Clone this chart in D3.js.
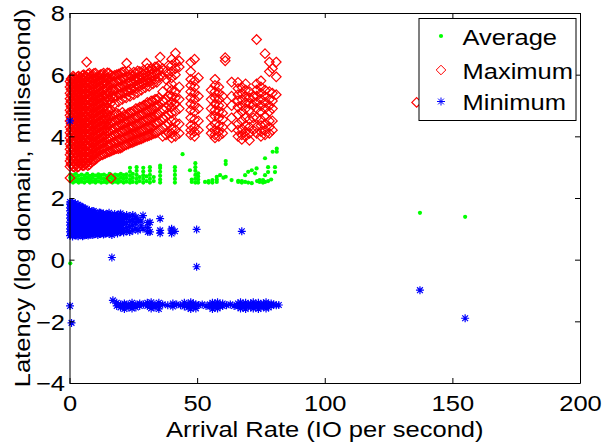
<!DOCTYPE html>
<html>
<head>
<meta charset="utf-8">
<script src="https://cdn.jsdelivr.net/npm/d3@7"></script>
<style>
  body { margin: 0; background: #fff; }
  text { font-family: "Liberation Sans", Arial, sans-serif; }
</style>
</head>
<body>
<div id="chart"></div>
<script>
// latency vs arrival rate scatter (avg / max / min)

const xTicks = [0, 50, 100, 150, 200];
const yTicks = [-4, -2, 0, 2, 4, 6, 8];
const seriesNames = ["Average", "Maximum", "Minimum"];

// each entry: [arrival rate, [latency values at that rate]]
const avgCols = [
  [0.3, [2.55, 2.66, 2.77, 3.82, 1.12, -0.12]],
  [1.4, [2.5, 2.62, 2.74]], [2.5, [2.54, 2.65, 2.78]], [3.6, [2.5, 2.6, 2.72]],
  [4.7, [2.53, 2.64, 2.76]], [5.8, [2.5, 2.62, 2.73]], [6.9, [2.55, 2.66, 2.78]],
  [8.0, [2.5, 2.61, 2.72]], [9.1, [2.53, 2.65, 2.76]], [10.2, [2.5, 2.6, 2.73]],
  [11.3, [2.54, 2.66, 2.77]], [12.4, [2.5, 2.62, 2.74]], [13.5, [2.52, 2.64, 2.76]],
  [14.6, [2.5, 2.6, 2.72]], [15.7, [2.54, 2.66, 2.78]], [16.8, [2.5, 2.62, 2.73]],
  [17.9, [2.53, 2.65, 2.76]], [19.0, [2.5, 2.61, 2.74]], [20.1, [2.54, 2.66, 2.78]],
  [21.2, [2.5, 2.62, 2.74]], [22.3, [2.53, 2.65, 2.77]],
  [23.7, [2.5, 2.6, 2.72, 2.85, 2.98]], [24.8, [2.52, 2.65, 2.78]],
  [26.3, [2.5, 2.62, 2.75, 2.88, 3.0]], [27.5, [2.55, 2.68]],
  [28.9, [2.5, 2.62, 2.74, 2.86, 2.98]], [30.2, [2.55, 2.7]],
  [31.5, [2.5, 2.62, 2.75, 2.88, 3.0]], [33.0, [2.55, 2.68]],
  [35.5, [2.5, 2.6, 2.72, 2.85, 2.97, 3.05]],
  [41.3, [2.5, 2.62, 2.75, 2.88, 3.0]], [44.3, [3.42]], [47.2, [2.9]], [47.9, [2.52, 2.6]],
  [49.3, [2.5, 2.62, 2.75, 2.88, 3.0, 3.13]], [50.4, [2.5, 2.6, 2.7, 2.8]],
  [53.1, [2.52]], [54.5, [2.5, 2.55]], [56.0, [2.5, 2.58]], [57.7, [2.52, 2.6, 2.69]],
  [59.0, [2.74]], [60.3, [2.66]], [61.2, [3.1, 3.2, 2.69]], [63.5, [2.58]],
  [66.1, [2.52, 2.56]], [67.5, [2.5, 2.55]], [68.8, [2.52, 2.74]], [70.0, [2.5, 2.85]],
  [71.4, [2.48, 2.9]], [72.7, [2.8]], [73.3, [2.96]], [73.5, [2.55]], [74.5, [2.52, 2.58]],
  [75.8, [2.5, 2.58]], [76.6, [3.29, 2.52, 2.74]], [77.8, [2.55, 2.84, 3.0]], [79.0, [2.6]],
  [79.6, [3.5]], [80.5, [2.84, 3.0]], [81.2, [3.5, 3.6]],
  [137.3, [1.52]], [155.0, [1.39]]
];

const maxCols = [
  [0.2, [3.02, 3.2, 3.4, 3.58, 3.75, 3.95, 4.12, 4.3, 4.5, 4.68, 4.85, 5.05, 5.22, 5.4, 5.6, 5.78, 2.65]],
  [0.6, [3.1, 3.29, 3.48, 3.67, 3.86, 4.04, 4.22, 4.41, 4.6, 4.78, 4.96, 5.14, 5.33, 5.52, 5.7, 5.86]],
  [1.0, [3.1, 3.28, 3.47, 3.66, 3.84, 4.03, 4.2, 4.4, 4.58, 4.77, 4.95, 5.13, 5.32, 5.5, 5.7, 5.88]],
  [1.4, [3.02, 3.2, 3.38, 3.56, 3.75, 3.93, 4.12, 4.31, 4.5, 4.69, 4.87, 5.06, 5.24, 5.43, 5.62, 5.8, 5.95]],
  [1.8, [3.0, 3.18, 3.37, 3.55, 3.73, 3.92, 4.1, 4.28, 4.47, 4.66, 4.85, 5.03, 5.2, 5.4, 5.58, 5.76, 5.92]],
  [2.2, [3.12, 3.3, 3.49, 3.68, 3.87, 4.06, 4.24, 4.43, 4.62, 4.81, 5.0, 5.18, 5.37, 5.56, 5.74, 5.88]],
  [2.7, [3.08, 3.27, 3.45, 3.64, 3.82, 4.0, 4.18, 4.37, 4.55, 4.74, 4.93, 5.1, 5.3, 5.48, 5.66, 5.85]],
  [3.1, [3.0, 3.18, 3.36, 3.55, 3.74, 3.92, 4.1, 4.29, 4.48, 4.66, 4.84, 5.03, 5.22, 5.4, 5.58, 5.77, 5.93]],
  [3.6, [3.02, 3.2, 3.38, 3.57, 3.76, 3.95, 4.14, 4.32, 4.5, 4.7, 4.88, 5.06, 5.25, 5.44, 5.62, 5.8, 5.95]],
  [4.1, [3.12, 3.3, 3.5, 3.68, 3.87, 4.06, 4.25, 4.44, 4.62, 4.8, 4.99, 5.18, 5.36, 5.55, 5.74, 5.9]],
  [4.6, [3.1, 3.3, 3.48, 3.67, 3.86, 4.05, 4.23, 4.42, 4.6, 4.79, 4.98, 5.16, 5.35, 5.54, 5.72, 5.9]],
  [5.1, [3.05, 3.22, 3.4, 3.58, 3.77, 3.96, 4.14, 4.33, 4.52, 4.7, 4.89, 5.08, 5.26, 5.45, 5.63, 5.82, 5.98]],
  [5.6, [3.05, 3.24, 3.42, 3.6, 3.8, 3.98, 4.17, 4.35, 4.54, 4.72, 4.9, 5.1, 5.28, 5.46, 5.65, 5.84, 6.0]],
  [6.1, [3.1, 3.3, 3.5, 3.7, 3.88, 4.07, 4.26, 4.45, 4.64, 4.82, 5.02, 5.2, 5.39, 5.58, 5.77, 5.95]],
  [6.7, [3.12, 3.3, 3.5, 3.68, 3.87, 4.05, 4.24, 4.43, 4.62, 4.8, 5.0, 5.18, 5.37, 5.56, 5.74, 5.93, 6.41]],
  [7.2, [3.05, 3.22, 3.4, 3.6, 3.78, 3.97, 4.15, 4.34, 4.53, 4.72, 4.9, 5.1, 5.28, 5.47, 5.66, 5.84, 6.02]],
  [7.8, [3.08, 3.28, 3.46, 3.65, 3.84, 4.02, 4.2, 4.4, 4.58, 4.77, 4.96, 5.15, 5.33, 5.52, 5.7, 5.9, 6.05]],
  [8.4, [3.15, 3.33, 3.52, 3.7, 3.9, 4.08, 4.27, 4.46, 4.65, 4.84, 5.02, 5.2, 5.4, 5.58, 5.77, 5.96]],
  [9.0, [3.2, 3.38, 3.57, 3.76, 3.94, 4.13, 4.32, 4.5, 4.7, 4.88, 5.07, 5.26, 5.44, 5.63, 5.82, 6.0]],
  [9.6, [3.22, 3.4, 3.6, 3.8, 3.98, 4.17, 4.36, 4.55, 4.74, 4.92, 5.1, 5.3, 5.48, 5.67, 5.86, 6.04]],
  [10.2, [3.25, 3.45, 3.64, 3.82, 4.0, 4.2, 4.38, 4.57, 4.76, 4.95, 5.14, 5.32, 5.5, 5.7, 5.88, 6.05]],
  [10.8, [3.3, 3.48, 3.68, 3.86, 4.05, 4.24, 4.43, 4.62, 4.8, 5.0, 5.18, 5.36, 5.56, 5.74, 5.92]],
  [11.5, [3.35, 3.52, 3.72, 3.9, 4.1, 4.28, 4.47, 4.66, 4.85, 5.04, 5.22, 5.4, 5.6, 5.78, 5.96]],
  [12.1, [3.38, 3.56, 3.75, 3.94, 4.13, 4.32, 4.5, 4.7, 4.88, 5.07, 5.26, 5.45, 5.64, 5.82, 6.0]],
  [12.8, [3.4, 3.6, 3.78, 3.97, 4.16, 4.35, 4.54, 4.72, 4.9, 5.1, 5.3, 5.48, 5.67, 5.86, 6.02]],
  [13.4, [3.42, 3.62, 3.8, 4.0, 4.2, 4.38, 4.57, 4.76, 4.95, 5.14, 5.33, 5.52, 5.7, 5.9, 6.05]],
  [14.1, [3.45, 3.65, 3.84, 4.03, 4.22, 4.4, 4.6, 4.8, 4.98, 5.17, 5.36, 5.55, 5.74, 5.92]],
  [14.8, [3.48, 3.7, 3.9, 4.1, 4.3, 4.5, 4.7, 4.9, 5.1, 5.3, 5.5, 5.7, 5.88, 6.06]],
  [15.5, [3.5, 3.72, 3.95, 4.15, 4.38, 4.6, 4.82, 5.2, 5.42, 5.65, 5.88, 6.05]],
  [16.2, [3.52, 3.75, 3.98, 4.2, 4.42, 4.64, 4.86, 5.08, 5.3, 5.52, 5.75, 5.98]],
  [16.3, [2.64]],
  [17.0, [3.55, 3.8, 4.02, 4.25, 4.48, 4.7, 5.25, 5.5, 5.72, 5.95]],
  [17.7, [3.58, 3.82, 4.05, 4.28, 4.5, 4.72, 5.05, 5.28, 5.5, 5.74, 5.98]],
  [18.5, [3.6, 3.85, 4.1, 4.32, 4.55, 4.75, 5.3, 5.55, 5.78, 6.0]],
  [19.2, [3.6, 3.85, 4.08, 4.32, 4.55, 4.72, 5.12, 5.35, 5.58, 5.8, 6.02]],
  [20.0, [3.62, 3.9, 4.15, 4.4, 4.62, 5.35, 5.6, 5.82, 6.05]],
  [20.7, [3.65, 3.9, 4.15, 4.38, 4.6, 4.78, 5.2, 5.42, 5.65, 5.88, 6.08]],
  [21.5, [3.7, 3.95, 4.2, 4.45, 4.7, 5.4, 5.62, 5.88, 6.1]],
  [22.2, [3.72, 3.97, 4.22, 4.46, 4.68, 5.25, 5.48, 5.7, 5.95]],
  [22.4, [6.37]],
  [23.0, [3.75, 4.0, 4.28, 4.5, 4.75, 5.45, 5.7, 5.92, 6.12]],
  [23.7, [3.78, 4.02, 4.28, 4.52, 4.78, 5.3, 5.55, 5.78, 6.0]],
  [24.5, [3.8, 4.05, 4.3, 4.55, 4.8, 5.5, 5.72, 5.95]],
  [25.2, [3.82, 4.08, 4.32, 4.58, 4.82, 5.35, 5.6, 5.85, 6.08]],
  [26.0, [3.85, 4.1, 4.38, 4.62, 4.9, 5.55, 5.8, 6.05]],
  [26.7, [3.88, 4.12, 4.38, 4.62, 4.88, 5.42, 5.68, 5.9, 6.12]],
  [27.5, [3.9, 4.15, 4.42, 4.7, 4.95, 5.62, 5.85, 6.1]],
  [28.2, [3.92, 4.18, 4.45, 4.7, 4.95, 5.5, 5.75, 5.98]],
  [29.0, [3.95, 4.2, 4.5, 4.75, 5.0, 5.7, 5.9, 6.15]],
  [29.7, [3.98, 4.25, 4.5, 4.78, 5.02, 5.58, 5.82, 6.05]],
  [30.2, [6.37]],
  [30.5, [4.0, 4.28, 4.55, 4.82, 5.1, 5.75, 5.95, 6.2]],
  [31.2, [4.02, 4.3, 4.56, 4.82, 5.08, 5.62, 5.88, 6.12]],
  [32.0, [4.05, 4.3, 4.6, 4.88, 5.15, 5.8, 6.02, 6.2]],
  [32.7, [4.08, 4.35, 4.62, 4.9, 5.15, 5.7, 5.95, 6.18]],
  [33.5, [4.1, 4.4, 4.65, 4.95, 5.2, 5.85, 6.1, 6.25]],
  [34.2, [4.12, 4.4, 4.68, 4.95, 5.2, 5.75, 6.02, 6.25]],
  [35.0, [4.2, 4.45, 4.7, 5.0, 5.25, 5.9, 6.15, 6.3]],
  [35.5, [6.57]],
  [36.5, [4.0, 4.3, 4.6, 4.9, 5.15, 5.45, 5.95, 6.2]],
  [37.8, [4.05, 4.35, 4.65, 4.92, 5.2, 5.85, 6.1]],
  [38.8, [4.1, 4.4, 4.7, 5.0, 5.3, 5.6, 6.0, 6.3]],
  [40.0, [3.95, 4.1, 4.25, 4.5, 4.75, 4.95, 5.1, 5.3, 5.5, 5.7, 5.9, 6.1, 6.3, 6.5]],
  [41.5, [4.0, 4.2, 4.45, 4.8, 5.05, 5.25, 5.45, 6.0, 6.2, 6.4, 6.7]],
  [43.0, [4.1, 4.4, 4.9, 5.2, 5.6, 6.25, 6.45]],
  [47.5, [4.05, 4.2, 4.35, 4.6, 4.85, 5.05, 5.25, 5.45, 5.65, 5.85, 6.1, 6.4]],
  [49.0, [4.0, 4.15, 4.3, 4.55, 4.8, 5.0, 5.2, 5.4, 5.6, 5.8, 6.5]],
  [50.5, [4.2, 4.5, 4.9, 5.3, 5.9]],
  [55.5, [4.1, 4.3, 4.6, 4.9, 5.2, 5.5]],
  [57.0, [3.95, 4.05, 4.2, 4.4, 4.65, 4.85, 5.05, 5.25, 5.45, 5.65, 5.85]],
  [58.5, [4.0, 4.15, 4.35, 4.6, 4.8, 5.0, 5.2, 5.4, 5.6]],
  [60.0, [4.1, 4.3, 4.55, 4.75, 5.0, 5.3]],
  [61.0, [6.45, 6.55]],
  [63.5, [4.3, 4.6, 5.0, 5.3, 5.76]],
  [66.0, [4.0, 4.2, 4.4, 4.7, 4.95, 5.15, 5.35, 5.55, 5.75]],
  [67.5, [3.9, 4.05, 4.25, 4.5, 4.8, 5.0, 5.2, 5.4, 5.6]],
  [69.0, [4.0, 4.15, 4.35, 4.6, 4.9, 5.1, 5.3, 5.5, 5.7]],
  [70.5, [3.87, 4.1, 4.3, 4.55, 4.85, 5.05, 5.25, 5.45]],
  [72.0, [4.2, 4.6, 5.0, 5.3]],
  [73.3, [4.1, 4.3, 4.6, 4.9, 5.1, 5.3, 5.5, 5.7, 7.14]],
  [75.0, [4.0, 4.15, 4.35, 4.55, 4.8, 5.0, 5.2, 5.4, 5.6, 5.8]],
  [76.6, [4.05, 4.2, 4.4, 4.65, 4.9, 5.1, 5.3, 5.5, 6.68]],
  [78.3, [4.1, 4.3, 4.5, 4.8, 5.0, 5.2, 5.45, 6.1, 6.41]],
  [79.5, [4.2, 4.5, 4.9, 5.15, 5.4, 6.2]],
  [81.0, [5.35, 5.93, 6.41]],
  [136.0, [5.1]]
];

const minCols = [
  [0.2, [0.78, 0.9, 1.0, 1.12, 1.22, 1.35, 1.45, 1.58, 1.68, 1.8, 1.87, 4.5, -1.5]],
  [0.7, [0.84, 0.95, 1.06, 1.17, 1.28, 1.4, 1.5, 1.62, 1.73, 1.84]],
  [0.8, [-2.05]],
  [1.2, [0.75, 0.86, 0.98, 1.08, 1.2, 1.3, 1.42, 1.52, 1.64, 1.75, 1.85]],
  [1.8, [0.8, 0.92, 1.03, 1.14, 1.25, 1.36, 1.47, 1.58, 1.7, 1.8]],
  [2.3, [0.8, 0.92, 1.03, 1.15, 1.26, 1.38, 1.5, 1.6, 1.72, 1.83]],
  [2.9, [0.78, 0.86, 0.97, 1.09, 1.2, 1.32, 1.43, 1.54, 1.66, 1.76]],
  [3.4, [0.76, 0.88, 0.99, 1.1, 1.22, 1.33, 1.45, 1.56, 1.68, 1.78]],
  [4.0, [0.82, 0.94, 1.06, 1.18, 1.3, 1.42, 1.53, 1.65, 1.75]],
  [4.5, [0.8, 0.9, 1.02, 1.14, 1.25, 1.37, 1.48, 1.6, 1.72]],
  [5.1, [0.76, 0.85, 0.96, 1.08, 1.19, 1.3, 1.41, 1.52, 1.63, 1.7]],
  [5.6, [0.78, 0.88, 1.0, 1.1, 1.22, 1.33, 1.44, 1.56, 1.66]],
  [6.2, [0.84, 0.96, 1.08, 1.2, 1.32, 1.44, 1.55, 1.66]],
  [6.7, [0.8, 0.92, 1.03, 1.15, 1.27, 1.38, 1.5, 1.62]],
  [7.3, [0.78, 0.88, 0.99, 1.1, 1.22, 1.34, 1.46, 1.57]],
  [7.8, [0.82, 0.94, 1.05, 1.16, 1.28, 1.4, 1.52, 1.6]],
  [8.4, [0.86, 0.97, 1.08, 1.2, 1.31, 1.42, 1.54]],
  [8.9, [0.8, 0.9, 1.02, 1.13, 1.25, 1.36, 1.48, 1.57]],
  [9.5, [0.82, 0.93, 1.04, 1.15, 1.27, 1.39, 1.5, 1.58]],
  [10.0, [0.84, 0.95, 1.06, 1.18, 1.3, 1.42, 1.53]],
  [10.6, [0.88, 1.0, 1.12, 1.24, 1.36, 1.47]],
  [11.1, [0.8, 0.92, 1.03, 1.15, 1.26, 1.38, 1.5]],
  [11.7, [0.83, 0.95, 1.07, 1.19, 1.31, 1.43, 1.53]],
  [12.2, [0.85, 0.96, 1.08, 1.2, 1.32, 1.44, 1.52]],
  [12.8, [0.88, 1.0, 1.12, 1.24, 1.36, 1.48]],
  [13.3, [0.82, 0.94, 1.05, 1.17, 1.28, 1.4, 1.5]],
  [13.9, [0.84, 0.96, 1.08, 1.2, 1.32, 1.44]],
  [14.4, [0.86, 0.98, 1.1, 1.22, 1.34, 1.46]],
  [15.0, [0.9, 1.02, 1.14, 1.26, 1.38, 1.48]],
  [15.5, [0.84, 0.96, 1.08, 1.2, 1.32, 1.44, 1.52]],
  [16.1, [0.86, 0.98, 1.1, 1.22, 1.34, 1.46]],
  [16.6, [0.8, 0.92, 1.04, 1.16, 1.28, 1.4, 0.07]],
  [17.2, [0.92, 1.04, 1.16, 1.3, 1.42]],
  [17.7, [0.88, 1.0, 1.12, 1.24, 1.36, 1.48]],
  [18.3, [0.9, 1.02, 1.16, 1.28, 1.4]],
  [18.8, [0.85, 0.97, 1.1, 1.22, 1.34, 1.45]],
  [19.4, [0.94, 1.08, 1.2, 1.34, 1.46]],
  [20.0, [0.9, 1.02, 1.14, 1.26, 1.38, 1.5]],
  [21.2, [0.88, 1.0, 1.15, 1.3, 1.42]],
  [22.4, [0.92, 1.05, 1.2, 1.35, 1.45]],
  [23.6, [0.9, 1.08, 1.25, 1.4]],
  [24.8, [0.95, 1.12, 1.3, 1.45]],
  [26.0, [1.0, 1.2, 1.38]],
  [26.8, [0.95, 1.3]],
  [28.0, [1.1, 1.25]],
  [28.8, [1.43, 1.0]],
  [30.7, [0.9, 1.05, 1.2]],
  [31.5, [1.21, 0.9]],
  [35.5, [1.33, 0.86, 0.95]],
  [40.0, [0.96, 0.85, 1.0]],
  [41.3, [0.92]],
  [49.8, [0.98, -0.23]],
  [67.5, [0.92]],
  [137.3, [-0.99]],
  [155.0, [-1.9]],
  // flat band near -1.45
  [17.0, [-1.32]], [18.5, [-1.4, -1.5]], [20.0, [-1.45, -1.55]], [21.5, [-1.42, -1.52, -1.6]],
  [23.0, [-1.45, -1.55]], [24.5, [-1.4, -1.5, -1.58]], [26.0, [-1.45, -1.55]], [27.5, [-1.42, -1.5]],
  [29.0, [-1.45]], [30.5, [-1.4, -1.5]], [32.0, [-1.38, -1.48, -1.58]], [33.5, [-1.45, -1.55]],
  [35.0, [-1.4, -1.5, -1.6]], [36.5, [-1.45]], [38.5, [-1.48]], [40.5, [-1.42, -1.52]],
  [42.0, [-1.45]], [43.5, [-1.48]], [45.0, [-1.4, -1.52]], [46.5, [-1.45, -1.55]],
  [47.5, [-1.38, -1.5, -1.6]], [48.5, [-1.42, -1.52]], [49.5, [-1.45, -1.58]], [50.5, [-1.48]],
  [52.0, [-1.45]], [53.5, [-1.5]], [55.0, [-1.45, -1.52]], [56.0, [-1.4, -1.5, -1.6]],
  [57.0, [-1.42, -1.55]], [58.0, [-1.38, -1.48, -1.58]], [59.0, [-1.45, -1.52]], [60.0, [-1.42, -1.5]],
  [61.5, [-1.48]], [63.0, [-1.45]], [64.5, [-1.5]], [66.0, [-1.42, -1.52]],
  [67.0, [-1.38, -1.48, -1.58]], [68.0, [-1.45, -1.55]], [69.0, [-1.4, -1.5, -1.6]], [70.0, [-1.45, -1.52]],
  [71.0, [-1.42, -1.55]], [72.0, [-1.38, -1.48, -1.58]], [73.0, [-1.45, -1.52]], [74.0, [-1.4, -1.5, -1.6]],
  [75.0, [-1.45, -1.55]], [76.0, [-1.42, -1.52]], [77.0, [-1.38, -1.48, -1.58]], [78.0, [-1.45, -1.55]],
  [79.0, [-1.42, -1.5]], [80.0, [-1.45]], [81.0, [-1.48]], [82.0, [-1.47]]
];

(function() {
  const W = 615, H = 444;
  const margin = {top: 13, right: 35, bottom: 61, left: 69.5},
      width = W - margin.left - margin.right,
      height = H - margin.top - margin.bottom;

  const fs = 22, sx = 1.16;   // the reference type is wide, so stretch it a little

  const flat = cols => cols.flatMap(c => c[1].map(v => [c[0], v]));
  const avg = flat(avgCols), mx = flat(maxCols), mn = flat(minCols);

  const svg = d3.select("#chart").append("svg")
      .attr("width", W).attr("height", H);
  const g = svg.append("g")
      .attr("transform", `translate(${margin.left},${margin.top})`);

  const x = d3.scaleLinear().domain([0, 200]).range([0, width]);
  const y = d3.scaleLinear().domain([-4, 8]).range([height, 0]);

  const diamond = "M0,-4.8L4.8,0L0,4.8L-4.8,0Z";
  const star = "M-4,0H4M0,-4V4M-2.9,-2.9L2.9,2.9M-2.9,2.9L2.9,-2.9";

  // average first, then max, then min on top
  g.append("g").selectAll("circle").data(avg).join("circle")
      .attr("cx", d => x(d[0])).attr("cy", d => y(d[1]))
      .attr("r", 2.1).attr("fill", "#00ff00");

  g.append("g").selectAll("path").data(mx).join("path")
      .attr("transform", d => `translate(${x(d[0])},${y(d[1])})`)
      .attr("d", diamond).attr("fill", "none")
      .attr("stroke", "#ff0000").attr("stroke-width", 1.2);

  g.append("g").selectAll("path").data(mn).join("path")
      .attr("transform", d => `translate(${x(d[0])},${y(d[1])})`)
      .attr("d", star).attr("fill", "none")
      .attr("stroke", "#0000ff").attr("stroke-width", 1.2);

  // axes with inward ticks, mirrored on top/right
  const styleAxis = sel => {
    sel.selectAll("text").style("font-family", "'Liberation Sans', Arial, sans-serif")
      .style("font-size", fs + "px").attr("fill", "#000");
    sel.selectAll("line, path").attr("stroke", "#000");
  };

  g.append("g").attr("transform", `translate(0,${height})`)
      .call(d3.axisBottom(x).tickValues(xTicks).tickSizeInner(-5).tickSizeOuter(0).tickPadding(12.4))
      .call(styleAxis)
      .selectAll("text").attr("transform", `scale(${sx},1)`);
  g.append("g")
      .call(d3.axisLeft(y).tickValues(yTicks).tickSizeInner(-5).tickSizeOuter(0))
      .call(styleAxis)
      .selectAll("text")
        .attr("x", -4.5 / sx).attr("dy", "0.36em")
        .attr("transform", `scale(${sx},1)`);
  g.append("g")
      .call(d3.axisTop(x).tickValues(xTicks).tickSizeInner(-5).tickSizeOuter(0).tickFormat(""))
      .call(styleAxis);
  g.append("g").attr("transform", `translate(${width},0)`)
      .call(d3.axisRight(y).tickValues(yTicks).tickSizeInner(-5).tickSizeOuter(0).tickFormat(""))
      .call(styleAxis);

  svg.append("text")
      .attr("transform", `translate(${margin.left + width / 2},436.5) scale(${sx},1)`)
      .attr("text-anchor", "middle").style("font-size", fs + "px")
      .text("Arrival Rate (IO per second)");

  svg.append("text")
      .attr("transform", `translate(30,${margin.top + height / 2}) rotate(-90) scale(${sx},1)`)
      .attr("text-anchor", "middle").style("font-size", fs + "px")
      .text("Latency (log domain, millisecond)");

  // legend
  const lg = svg.append("g").attr("transform", "translate(419,18.5)");
  lg.append("rect").attr("width", 157).attr("height", 102)
      .attr("fill", "#fff").attr("stroke", "#000").attr("stroke-width", 1);
  const rows = [17.5, 51.5, 83];
  seriesNames.forEach((name, i) => {
    const row = lg.append("g").attr("transform", `translate(22,${rows[i]})`);
    if (i === 0) row.append("circle").attr("r", 2.1).attr("fill", "#00ff00");
    if (i === 1) row.append("path").attr("d", diamond).attr("fill", "none").attr("stroke", "#ff0000");
    if (i === 2) row.append("path").attr("d", star).attr("fill", "none").attr("stroke", "#0000ff");
    lg.append("text")
      .attr("transform", `translate(43.5,${rows[i] + 8.5}) scale(${sx},1)`)
      .style("font-size", fs + "px").text(name);
  });
})();
</script>
</body>
</html>
